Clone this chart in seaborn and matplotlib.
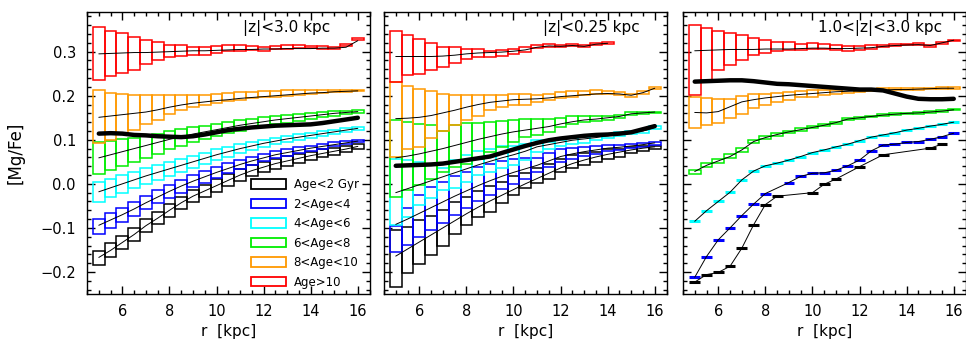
import numpy as np
import pandas as pd
import matplotlib
matplotlib.use("Agg")
import matplotlib.pyplot as plt
import seaborn as sns
from matplotlib.patches import Patch
from matplotlib.ticker import MultipleLocator

nan = np.nan

r = [5.0, 5.5, 6.0, 6.5, 7.0, 7.5, 8.0, 8.5, 9.0, 9.5, 10.0, 10.5,
     11.0, 11.5, 12.0, 12.5, 13.0, 13.5, 14.0, 14.5, 15.0, 15.5, 16.0]

groups = ["Age<2 Gyr", "2<Age<4", "4<Age<6", "6<Age<8", "8<Age<10", "Age>10"]
colors = ["black", "#0000ff", "#00ffff", "#00ee00", "#ff9900", "#ff0000"]
panel_titles = ["|z|<3.0 kpc", "|z|<0.25 kpc", "1.0<|z|<3.0 kpc"]

# ---- panel 1: |z|<3.0 kpc ----
p1_black_med = [-0.167, -0.151, -0.133, -0.115, -0.095, -0.078, -0.060, -0.043, -0.028, -0.016, -0.004, 0.008, 0.020, 0.030, 0.038, 0.046, 0.052, 0.058, 0.064, 0.069, 0.074, 0.079, 0.085]
p1_black_lo = [-0.184, -0.167, -0.148, -0.130, -0.110, -0.092, -0.075, -0.057, -0.042, -0.029, -0.018, -0.006, 0.006, 0.017, 0.026, 0.034, 0.041, 0.048, 0.054, 0.060, 0.066, 0.072, 0.080]
p1_black_hi = [-0.152, -0.135, -0.118, -0.100, -0.080, -0.063, -0.045, -0.029, -0.014, -0.003, 0.011, 0.022, 0.033, 0.042, 0.050, 0.057, 0.063, 0.068, 0.073, 0.078, 0.082, 0.086, 0.090]

p1_blue_med = [-0.094, -0.082, -0.070, -0.057, -0.043, -0.030, -0.017, -0.005, 0.006, 0.016, 0.026, 0.035, 0.044, 0.052, 0.059, 0.066, 0.071, 0.076, 0.081, 0.085, 0.089, 0.093, 0.097]
p1_blue_lo = [-0.113, -0.100, -0.086, -0.073, -0.057, -0.044, -0.032, -0.020, -0.008, 0.002, 0.013, 0.024, 0.034, 0.043, 0.051, 0.058, 0.064, 0.070, 0.075, 0.080, 0.085, 0.090, 0.095]
p1_blue_hi = [-0.079, -0.067, -0.054, -0.041, -0.027, -0.014, -0.002, 0.009, 0.020, 0.029, 0.038, 0.047, 0.055, 0.062, 0.068, 0.074, 0.079, 0.083, 0.087, 0.090, 0.094, 0.097, 0.100]

p1_cyan_med = [-0.018, -0.009, 0.000, 0.009, 0.018, 0.026, 0.034, 0.042, 0.050, 0.058, 0.066, 0.073, 0.080, 0.086, 0.092, 0.097, 0.102, 0.106, 0.110, 0.114, 0.118, 0.122, 0.126]
p1_cyan_lo = [-0.041, -0.030, -0.020, -0.010, 0.000, 0.009, 0.018, 0.027, 0.036, 0.045, 0.054, 0.062, 0.070, 0.077, 0.084, 0.090, 0.095, 0.100, 0.104, 0.109, 0.113, 0.118, 0.122]
p1_cyan_hi = [0.005, 0.012, 0.020, 0.028, 0.036, 0.043, 0.050, 0.057, 0.064, 0.071, 0.078, 0.084, 0.090, 0.095, 0.100, 0.104, 0.109, 0.112, 0.116, 0.119, 0.123, 0.126, 0.130]

p1_green_med = [0.059, 0.066, 0.073, 0.080, 0.087, 0.094, 0.101, 0.107, 0.113, 0.118, 0.123, 0.128, 0.133, 0.137, 0.141, 0.145, 0.148, 0.151, 0.154, 0.157, 0.160, 0.162, 0.164]
p1_green_lo = [0.022, 0.031, 0.040, 0.049, 0.058, 0.068, 0.078, 0.087, 0.095, 0.102, 0.109, 0.115, 0.121, 0.126, 0.131, 0.135, 0.139, 0.143, 0.147, 0.151, 0.154, 0.158, 0.161]
p1_green_hi = [0.094, 0.097, 0.101, 0.104, 0.108, 0.113, 0.119, 0.124, 0.128, 0.132, 0.136, 0.140, 0.144, 0.148, 0.151, 0.154, 0.157, 0.159, 0.161, 0.163, 0.165, 0.166, 0.167]

p1_orange_med = [0.151, 0.154, 0.157, 0.160, 0.163, 0.168, 0.174, 0.179, 0.183, 0.186, 0.189, 0.191, 0.194, 0.196, 0.198, 0.200, 0.202, 0.204, 0.206, 0.207, 0.209, 0.210, 0.211]
p1_orange_lo = [0.093, 0.100, 0.112, 0.123, 0.136, 0.146, 0.159, 0.167, 0.174, 0.180, 0.184, 0.187, 0.191, 0.194, 0.196, 0.198, 0.200, 0.202, 0.204, 0.206, 0.208, 0.209, 0.210]
p1_orange_hi = [0.212, 0.207, 0.204, 0.202, 0.201, 0.201, 0.201, 0.201, 0.201, 0.202, 0.204, 0.206, 0.208, 0.209, 0.210, 0.211, 0.212, 0.212, 0.213, 0.213, 0.214, 0.214, 0.214]

p1_red_med = [0.295, 0.296, 0.297, 0.298, 0.298, 0.299, 0.300, 0.301, 0.302, 0.302, 0.303, 0.304, 0.305, 0.305, 0.306, 0.306, 0.307, 0.307, 0.307, 0.308, 0.308, 0.310, 0.325]
p1_red_lo = [0.236, 0.244, 0.252, 0.259, 0.272, 0.280, 0.287, 0.290, 0.293, 0.293, 0.297, 0.301, 0.302, 0.304, 0.301, 0.305, 0.306, 0.308, 0.309, 0.307, 0.306, 0.312, 0.326]
p1_red_hi = [0.355, 0.348, 0.342, 0.334, 0.327, 0.321, 0.316, 0.315, 0.311, 0.311, 0.312, 0.314, 0.314, 0.312, 0.310, 0.313, 0.314, 0.314, 0.313, 0.312, 0.311, 0.317, 0.330]

p1_all = [0.114, 0.115, 0.114, 0.111, 0.110, 0.108, 0.107, 0.106, 0.108, 0.112, 0.117, 0.122, 0.125, 0.128, 0.130, 0.132, 0.133, 0.134, 0.135, 0.138, 0.142, 0.146, 0.150]

# ---- panel 2: |z|<0.25 kpc ----
p2_black_med = [-0.164, -0.148, -0.132, -0.116, -0.100, -0.084, -0.068, -0.053, -0.039, -0.026, -0.013, 0.000, 0.012, 0.024, 0.036, 0.046, 0.054, 0.061, 0.067, 0.072, 0.077, 0.081, 0.084]
p2_black_lo = [-0.233, -0.202, -0.182, -0.162, -0.140, -0.113, -0.093, -0.075, -0.063, -0.044, -0.025, -0.010, 0.001, 0.012, 0.027, 0.035, 0.042, 0.050, 0.057, 0.061, 0.069, 0.074, 0.080]
p2_black_hi = [-0.104, -0.097, -0.081, -0.074, -0.059, -0.042, -0.029, -0.017, -0.006, 0.005, 0.017, 0.024, 0.035, 0.046, 0.057, 0.065, 0.069, 0.072, 0.078, 0.080, 0.084, 0.086, 0.087]

p2_blue_med = [-0.092, -0.080, -0.067, -0.054, -0.041, -0.028, -0.016, -0.004, 0.007, 0.017, 0.026, 0.034, 0.042, 0.052, 0.062, 0.068, 0.073, 0.077, 0.081, 0.083, 0.086, 0.089, 0.093]
p2_blue_lo = [-0.154, -0.138, -0.120, -0.104, -0.088, -0.070, -0.055, -0.040, -0.025, -0.012, 0.000, 0.012, 0.027, 0.038, 0.050, 0.057, 0.063, 0.068, 0.074, 0.076, 0.081, 0.084, 0.089]
p2_blue_hi = [-0.095, -0.055, -0.025, -0.008, 0.004, 0.017, 0.026, 0.038, 0.046, 0.052, 0.057, 0.059, 0.059, 0.069, 0.080, 0.081, 0.084, 0.087, 0.089, 0.089, 0.091, 0.093, 0.096]

p2_cyan_med = [-0.020, -0.011, -0.002, 0.007, 0.016, 0.025, 0.034, 0.043, 0.051, 0.059, 0.066, 0.074, 0.084, 0.089, 0.094, 0.099, 0.102, 0.105, 0.109, 0.113, 0.117, 0.120, 0.128]
p2_cyan_lo = [-0.094, -0.075, -0.048, -0.033, -0.014, -0.010, 0.004, 0.020, 0.027, 0.035, 0.042, 0.053, 0.072, 0.078, 0.087, 0.091, 0.093, 0.099, 0.104, 0.108, 0.112, 0.116, 0.124]
p2_cyan_hi = [0.057, 0.054, 0.050, 0.042, 0.035, 0.054, 0.065, 0.075, 0.080, 0.085, 0.087, 0.090, 0.099, 0.096, 0.099, 0.104, 0.106, 0.110, 0.114, 0.117, 0.121, 0.123, 0.131]

p2_green_med = [0.059, 0.063, 0.068, 0.074, 0.080, 0.087, 0.094, 0.101, 0.107, 0.113, 0.118, 0.122, 0.126, 0.130, 0.136, 0.141, 0.145, 0.147, 0.150, 0.153, 0.159, 0.161, 0.163]
p2_green_lo = [-0.030, -0.014, -0.003, 0.012, 0.027, 0.038, 0.046, 0.057, 0.072, 0.084, 0.095, 0.106, 0.110, 0.118, 0.129, 0.136, 0.140, 0.142, 0.144, 0.149, 0.157, 0.159, 0.161]
p2_green_hi = [0.145, 0.140, 0.136, 0.133, 0.121, 0.133, 0.138, 0.139, 0.141, 0.143, 0.145, 0.147, 0.147, 0.147, 0.149, 0.153, 0.153, 0.153, 0.155, 0.157, 0.163, 0.164, 0.164]

p2_orange_med = [0.148, 0.149, 0.151, 0.155, 0.161, 0.167, 0.174, 0.180, 0.185, 0.188, 0.191, 0.192, 0.193, 0.195, 0.198, 0.200, 0.202, 0.204, 0.205, 0.204, 0.201, 0.207, 0.217]
p2_orange_lo = [0.061, 0.080, 0.084, 0.103, 0.119, 0.133, 0.144, 0.155, 0.167, 0.174, 0.178, 0.179, 0.186, 0.190, 0.194, 0.198, 0.202, 0.204, 0.203, 0.201, 0.197, 0.204, 0.216]
p2_orange_hi = [0.231, 0.222, 0.216, 0.210, 0.203, 0.201, 0.201, 0.202, 0.202, 0.202, 0.204, 0.204, 0.201, 0.204, 0.208, 0.210, 0.211, 0.212, 0.210, 0.208, 0.204, 0.210, 0.219]

p2_red_med = [0.289, 0.289, 0.289, 0.289, 0.290, 0.292, 0.295, 0.297, 0.298, 0.299, 0.301, 0.304, 0.310, 0.313, 0.312, 0.314, 0.312, 0.317, 0.319, nan, nan, nan, nan]
p2_red_lo = [0.231, 0.247, 0.250, 0.259, 0.266, 0.274, 0.284, 0.289, 0.289, 0.291, 0.295, 0.300, 0.308, 0.311, 0.310, 0.312, 0.310, 0.315, 0.317, nan, nan, nan, nan]
p2_red_hi = [0.348, 0.338, 0.329, 0.319, 0.310, 0.311, 0.306, 0.305, 0.302, 0.304, 0.306, 0.310, 0.315, 0.317, 0.315, 0.317, 0.314, 0.319, 0.321, nan, nan, nan, nan]

p2_all = [0.041, 0.042, 0.043, 0.044, 0.046, 0.050, 0.054, 0.058, 0.062, 0.070, 0.078, 0.086, 0.093, 0.099, 0.103, 0.106, 0.109, 0.111, 0.112, 0.114, 0.117, 0.124, 0.131]

# ---- panel 3: 1.0<|z|<3.0 kpc (young groups: medians only) ----
p3_black_med = [-0.223, -0.206, -0.201, -0.187, -0.146, -0.093, -0.047, -0.028, nan, nan, -0.020, -0.001, 0.011, nan, 0.039, nan, 0.066, nan, nan, nan, 0.081, 0.090, nan]
p3_blue_med = [-0.212, -0.165, -0.127, -0.100, -0.072, -0.046, -0.022, nan, 0.003, 0.017, 0.024, 0.025, 0.031, 0.041, 0.054, 0.075, 0.088, 0.090, 0.094, 0.096, 0.101, 0.107, 0.115]
p3_cyan_med = [-0.085, -0.061, -0.040, -0.019, 0.009, 0.029, 0.041, 0.047, 0.054, 0.062, 0.071, 0.077, 0.084, 0.090, 0.098, 0.106, 0.111, 0.116, 0.122, 0.126, 0.131, 0.135, 0.140]

p3_green_med = [0.028, 0.042, 0.052, 0.062, 0.077, 0.096, 0.105, 0.112, 0.118, 0.123, 0.128, 0.133, 0.139, 0.147, 0.150, 0.153, 0.156, 0.158, 0.160, 0.161, 0.163, 0.165, 0.168]
p3_green_lo = [0.023, 0.038, 0.047, 0.058, 0.073, 0.092, 0.101, 0.109, 0.115, 0.121, 0.126, 0.131, 0.136, 0.145, 0.148, 0.151, 0.154, 0.156, 0.158, 0.159, 0.161, 0.163, 0.167]
p3_green_hi = [0.032, 0.047, 0.057, 0.067, 0.081, 0.100, 0.109, 0.115, 0.120, 0.126, 0.131, 0.136, 0.141, 0.149, 0.152, 0.155, 0.158, 0.160, 0.161, 0.163, 0.165, 0.167, 0.170]

p3_orange_med = [0.162, 0.161, 0.164, 0.175, 0.186, 0.191, 0.195, 0.198, 0.201, 0.203, 0.205, 0.207, 0.209, 0.210, 0.211, 0.212, 0.213, 0.214, 0.214, 0.215, 0.216, 0.217, 0.217]
p3_orange_lo = [0.127, 0.133, 0.137, 0.149, 0.158, 0.171, 0.179, 0.186, 0.190, 0.196, 0.198, 0.201, 0.205, 0.207, 0.209, 0.210, 0.211, 0.212, 0.213, 0.214, 0.215, 0.216, 0.216]
p3_orange_hi = [0.198, 0.195, 0.192, 0.192, 0.199, 0.203, 0.205, 0.207, 0.209, 0.211, 0.213, 0.213, 0.214, 0.215, 0.216, 0.216, 0.217, 0.217, 0.217, 0.218, 0.218, 0.219, 0.219]

p3_red_med = [0.302, 0.303, 0.304, 0.305, 0.305, 0.305, 0.306, 0.306, 0.306, 0.307, 0.308, 0.308, 0.307, 0.307, 0.308, 0.309, 0.312, 0.314, 0.315, 0.316, 0.314, 0.320, 0.326]
p3_red_lo = [0.201, 0.232, 0.258, 0.269, 0.282, 0.292, 0.298, 0.302, 0.303, 0.303, 0.307, 0.305, 0.303, 0.302, 0.303, 0.305, 0.311, 0.313, 0.314, 0.315, 0.311, 0.318, 0.324]
p3_red_hi = [0.360, 0.354, 0.348, 0.343, 0.337, 0.330, 0.327, 0.322, 0.321, 0.318, 0.320, 0.318, 0.316, 0.313, 0.313, 0.314, 0.316, 0.317, 0.318, 0.319, 0.316, 0.322, 0.327]

p3_all = [0.232, 0.233, 0.234, 0.235, 0.235, 0.233, 0.230, 0.227, 0.226, 0.224, 0.222, 0.220, 0.218, 0.216, 0.214, 0.214, 0.212, 0.205, 0.198, 0.193, 0.192, 0.192, 0.193]

series = [
    [(p1_black_med, p1_black_lo, p1_black_hi), (p1_blue_med, p1_blue_lo, p1_blue_hi),
     (p1_cyan_med, p1_cyan_lo, p1_cyan_hi), (p1_green_med, p1_green_lo, p1_green_hi),
     (p1_orange_med, p1_orange_lo, p1_orange_hi), (p1_red_med, p1_red_lo, p1_red_hi)],
    [(p2_black_med, p2_black_lo, p2_black_hi), (p2_blue_med, p2_blue_lo, p2_blue_hi),
     (p2_cyan_med, p2_cyan_lo, p2_cyan_hi), (p2_green_med, p2_green_lo, p2_green_hi),
     (p2_orange_med, p2_orange_lo, p2_orange_hi), (p2_red_med, p2_red_lo, p2_red_hi)],
    [(p3_black_med, None, None), (p3_blue_med, None, None), (p3_cyan_med, None, None),
     (p3_green_med, p3_green_lo, p3_green_hi), (p3_orange_med, p3_orange_lo, p3_orange_hi),
     (p3_red_med, p3_red_lo, p3_red_hi)],
]
all_stars = [p1_all, p2_all, p3_all]

frames = []
for k, panel in enumerate(series):
    for g, (med, lo, hi) in zip(groups, panel):
        frames.append(pd.DataFrame({
            "panel": k, "group": g, "r": r, "med": med,
            "lo": med if lo is None else lo,
            "hi": med if hi is None else hi,
            "dash": lo is None}))
df = pd.concat(frames, ignore_index=True)
thick = pd.concat([pd.DataFrame({"panel": k, "r": r, "mgfe": v})
                   for k, v in enumerate(all_stars)], ignore_index=True)

sns.set_style("ticks", {"axes.edgecolor": "black", "text.color": "black",
                        "xtick.color": "black", "ytick.color": "black",
                        "axes.labelcolor": "black"})
plt.rcParams["font.family"] = ["DejaVu Sans"]

fig = plt.figure(figsize=(9.66, 3.49), dpi=100)
lefts = [0.0901, 0.3975, 0.707]
axes = [fig.add_axes([x0, 0.1576, 0.2925, 0.808]) for x0 in lefts]

for k, ax in enumerate(axes):
    sub = df[df["panel"] == k]
    for g, c in zip(groups, colors):
        s = sub[sub["group"] == g].dropna(subset=["med"])
        dash = bool(s["dash"].iloc[0])
        ax.bar(s["r"], s["hi"] - s["lo"], bottom=s["lo"],
               width=0.46 if dash else 0.5, fill=False, edgecolor=c,
               linewidth=2.2 if dash else 1.1, zorder=2)
    for g in groups:
        s = sub[sub["group"] == g].dropna(subset=["med"])
        sns.lineplot(data=s, x="r", y="med", color="black", linewidth=0.7,
                     estimator=None, ax=ax, zorder=3)
    sns.lineplot(data=thick[thick["panel"] == k], x="r", y="mgfe", color="black",
                 linewidth=3.2, estimator=None, ax=ax, zorder=4)

    ax.set_xlim(4.5, 16.5)
    ax.set_ylim(-0.25, 0.39)
    ax.xaxis.set_major_locator(MultipleLocator(2))
    ax.xaxis.set_minor_locator(MultipleLocator(0.5))
    ax.yaxis.set_major_locator(MultipleLocator(0.1))
    ax.yaxis.set_minor_locator(MultipleLocator(0.02))
    ax.tick_params(which="both", direction="in", top=True, right=True,
                   labelsize=10.5, width=1.0, colors="black")
    ax.tick_params(which="major", length=6)
    ax.tick_params(which="minor", length=3)
    ax.tick_params(axis="x", pad=7)
    ax.tick_params(axis="y", pad=8)
    for sp in ax.spines.values():
        sp.set_linewidth(1.0)
        sp.set_color("black")
    ax.set_xlabel("r  [kpc]", fontsize=11, labelpad=4)
    ax.set_ylabel("")
    if k > 0:
        ax.set_yticklabels([])
    ax.text(0.86 if k == 0 else (0.905 if k == 1 else 0.918), 0.945,
            panel_titles[k], transform=ax.transAxes, ha="right", va="center",
            fontsize=11)

fig.text(0.016, 0.5618, "[Mg/Fe]", rotation=90, ha="center", va="center", fontsize=12)

handles = [Patch(facecolor="none", edgecolor=c, linewidth=1.3, label=g)
           for g, c in zip(groups, colors)]
axes[0].legend(handles=handles, loc="lower right", bbox_to_anchor=(0.99, -0.01),
               frameon=False, fontsize=8.5, handlelength=3.0, handleheight=0.9,
               labelspacing=0.55, handletextpad=0.6, borderaxespad=0.3)

fig.savefig("out.png", dpi=100)
